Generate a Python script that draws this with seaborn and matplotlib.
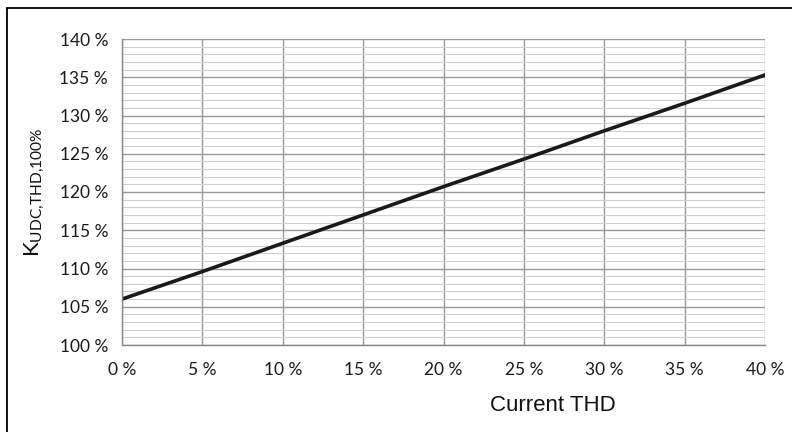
import matplotlib
matplotlib.use('Agg')

import matplotlib.pyplot as plt
import seaborn as sns
import pandas as pd
from matplotlib.ticker import MultipleLocator, FuncFormatter
from matplotlib.lines import Line2D

# ========== DATA ==========
thd = [0, 5, 10, 15, 20, 25, 30, 35, 40]
k_udc = [106.0, 109.6, 113.3, 117.0, 120.7, 124.3, 128.0, 131.6, 135.3]
df = pd.DataFrame({'thd': thd, 'k': k_udc})

# ========== PLOT ==========
sns.set_style("white")
plt.rcParams['font.family'] = ['Lato', 'DejaVu Sans']
plt.rcParams['mathtext.fontset'] = 'custom'
plt.rcParams['mathtext.rm'] = 'Lato'

fig = plt.figure(figsize=(7.92, 4.32), dpi=100)
ax = fig.add_axes([122/792, 1 - 345/432, (765-122)/792, (345-39)/432])

ax.yaxis.set_major_locator(MultipleLocator(5))
ax.yaxis.set_minor_locator(MultipleLocator(1))
ax.xaxis.set_major_locator(MultipleLocator(5))
ax.grid(which='minor', axis='y', color='#d0d0d0', lw=0.8)
ax.grid(which='major', axis='both', color='#9a9a9a', lw=1.0)
ax.set_axisbelow(True)

sns.lineplot(data=df, x='thd', y='k', ax=ax, color='#1a1a1a', lw=2.6)

ax.set_xlim(0, 40)
ax.set_ylim(100, 140)
ax.xaxis.set_major_formatter(FuncFormatter(lambda v, p: f'{int(v)} %'))
ax.yaxis.set_major_formatter(FuncFormatter(lambda v, p: f'{int(v)} %'))
ax.tick_params(axis='both', which='both', length=0, labelsize=12.5, colors='#1a1a1a')
ax.tick_params(axis='x', pad=12)
ax.tick_params(axis='y', pad=10)

for s in ['top', 'right']:
    ax.spines[s].set_visible(False)
for s in ['left', 'bottom']:
    ax.spines[s].set_color('#888888')
    ax.spines[s].set_linewidth(1.0)

ax.set_xlabel('Current THD', fontsize=16, family='Liberation Sans', color='#111111')
ax.xaxis.set_label_coords((553-122)/(765-122), -0.165)
ax.set_ylabel(r'K$_{\mathregular{UDC{,}THD{,}100\%}}$', fontsize=16, color='#111111')
ax.yaxis.set_label_coords((47-122)/(765-122), 0.5)

# frame: only top and left edges are visible in the picture
fig.add_artist(Line2D([7/792, 7/792], [0, 1 - 8/432], transform=fig.transFigure, color='black', lw=1.3))
fig.add_artist(Line2D([7/792, 1], [1 - 8/432, 1 - 8/432], transform=fig.transFigure, color='black', lw=1.3))

fig.savefig('out.png', dpi=100)
